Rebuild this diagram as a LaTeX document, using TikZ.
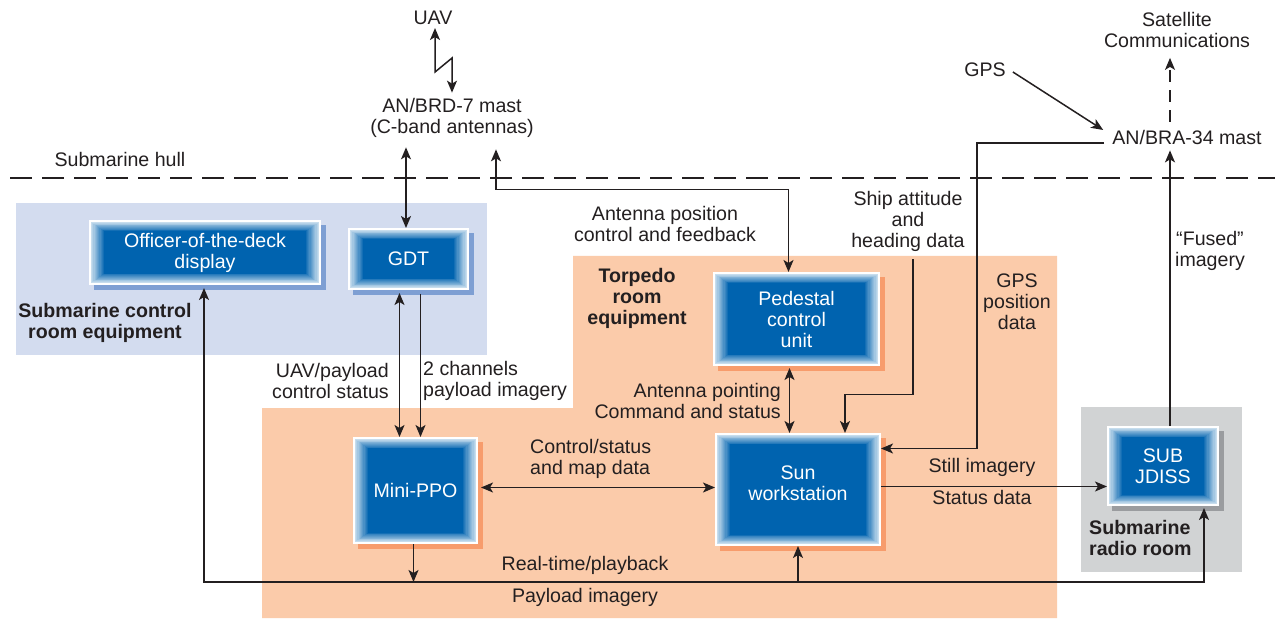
\documentclass[tikz,border=0pt]{standalone}
\usepackage{fontspec}
\setmainfont{Liberation Sans}
\usetikzlibrary{arrows.meta,calc}
\definecolor{boxblue}{HTML}{0063AF}
\definecolor{regblue}{HTML}{D3DCEF}
\definecolor{peach}{HTML}{FBCBAA}
\definecolor{reggray}{HTML}{D1D3D4}
\definecolor{shblue}{HTML}{7E9FD3}
\definecolor{shorange}{HTML}{F79C6C}
\definecolor{shgray}{HTML}{9A9C9F}
\definecolor{txt}{HTML}{231F20}
\pgfdeclarelayer{back}
\pgfdeclarelayer{shad}
\pgfsetlayers{back,shad,main}
\begin{document}
\begin{tikzpicture}[x=1pt,y=-1pt,
  font=\fontsize{19.6pt}{21pt}\selectfont, text=txt,
  lab/.style={align=center, inner sep=0pt},
  bold/.style={align=center, inner sep=0pt, font=\fontsize{19.6pt}{21pt}\selectfont\bfseries},
  arr/.style={-{Stealth[length=12pt,width=10pt,inset=3pt]}, line width=1.5pt, draw=txt},
  both/.style={{Stealth[length=12pt,width=10pt,inset=3pt]}-{Stealth[length=12pt,width=10pt,inset=3pt]}, line width=1.5pt, draw=txt},
  gbox/.style={inner sep=0pt, align=center, text=white, fill=boxblue, draw=white, line width=2pt,
    path picture={
      \foreach \i in {0,...,11}{
        \pgfmathtruncatemacro\pc{22+\i*78/11}
        \pgfmathsetmacro\dx{1+\i*1.2}
        \pgfmathsetmacro\dy{1+\i*0.85}
        \fill[boxblue!\pc!white] ([xshift=\dx pt, yshift=\dy pt]path picture bounding box.south west)
          rectangle ([xshift=-\dx pt, yshift=-\dy pt]path picture bounding box.north east);
      }
    }}
]
\useasboundingbox (0,0) rectangle (1275,620);

% regions
\begin{pgfonlayer}{back}
  \fill[regblue] (16,203) rectangle (487,355);
  \fill[peach] (573,256) -- (1057,256) -- (1057,618) -- (262,618) -- (262,408) -- (573,408) -- cycle;
  \fill[reggray] (1081,407) rectangle (1242,572);
\end{pgfonlayer}

% hull
\draw[dash pattern=on 22pt off 10pt, line width=1.6pt, draw=txt] (10,178) -- (1275,178);

% boxes
\node[gbox, minimum width=230pt, minimum height=63pt] (ood) at (205,252.5) {Officer-of-the-deck\\display};
\node[gbox, minimum width=119pt, minimum height=60pt] (gdt) at (408.5,259) {GDT};
\node[gbox, minimum width=123pt, minimum height=105pt] (ppo) at (415.5,490.5) {Mini-PPO};
\node[gbox, minimum width=165pt, minimum height=92pt] (ped) at (796.5,319) {Pedestal\\control\\unit};
\node[gbox, minimum width=164pt, minimum height=111pt, text depth=12pt] (sun) at (798,489.5) {Sun\\workstation};
\node[gbox, minimum width=110pt, minimum height=78pt] (jdiss) at (1163,466) {SUB\\JDISS};

\begin{pgfonlayer}{shad}
  \foreach \n/\c in {ood/shblue, gdt/shblue, ppo/shorange, ped/shorange, sun/shorange, jdiss/shgray}
    \fill[\c] ([shift={(5pt,-5pt)}]\n.south west) rectangle ([shift={(5pt,-5pt)}]\n.north east);
\end{pgfonlayer}

% labels
\node[lab] (uav) at (433,18) {UAV};
\node[lab] (mast7) at (452,117.5) {AN/BRD-7 mast\\(C-band antennas)};
\node[lab] (sat) at (1177,30) {Satellite\\Communications};
\node[lab] (gps) at (985,70) {GPS};
\node[lab] (mast34) at (1187,137) {AN/BRA-34 mast};
\node[lab] (hull) at (120,159) {Submarine hull};
\node[lab] (antpos) at (665,224) {Antenna position\\control and feedback};
\node[lab] (ship) at (908,221) {Ship attitude\\and\\heading data};
\node[lab] (fused) at (1210,251) {“Fused”\\imagery};
\node[bold] (torp) at (637,298) {Torpedo\\room\\equipment};
\node[lab] (gpspos) at (1017,302) {GPS\\position\\data};
\node[bold] (ctrlroom) at (105,323) {Submarine control\\room equipment};
\node[lab, align=right, anchor=east] (uavpay) at (389,381) {UAV/payload\\control status};
\node[lab, align=left, anchor=west] (twoch) at (423,381) {2 channels\\payload imagery};
\node[lab, align=right, anchor=east] (antpt) at (781,401) {Antenna pointing\\Command and status};
\node[lab, align=left, anchor=west] (ctrlmap) at (530,459) {Control/status\\and map data};
\node[lab] (still) at (982,467) {Still imagery};
\node[lab] (statd) at (982,497) {Status data};
\node[bold, align=left, anchor=west] (radio) at (1089,538) {Submarine\\radio room};
\node[lab] (rt) at (585,565) {Real-time/playback};
\node[lab] (pay) at (585,597) {Payload imagery};

% connectors
\draw[both] ($(uav.south)+(2,3)$) -- ++(0,44) -- ++(17,-14) -- ($(mast7.north)+(0,-5)$);
\draw[both] ($(mast7.south)+(-46,10)$) coordinate (t1) -- (t1 |- gdt.north);
\draw[both] ($(mast7.south)+(44,12)$) -- ++(0,40) -| ([xshift=-8pt]ped.north);
\draw[both] ($(gdt.south)+(-9,3)$) coordinate (t2) -- (t2 |- ppo.north);
\draw[arr] ($(gdt.south)+(12,4)$) coordinate (t3) -- (t3 |- ppo.north);
\draw[both] ($(ped.south)+(-7,2)$) coordinate (t4) -- (t4 |- sun.north);
\draw[arr] ($(ship.south)+(5,8)$) -- ++(0,135) -| ([xshift=47pt]sun.north);
\draw[arr] ($(mast34.west)+(-8,6)$) -- ++(-127,0) |- ([yshift=41pt]sun.east);
\draw[arr] ($(gps.east)+(7,2)$) -- ($(mast34.west)+(-9,-7)$);
\draw[arr, dash pattern=on 12pt off 8pt] ($(mast34.north)+(-17,-8)$) -- ($(sat.south)+(-7,10)$);
\draw[arr] ([xshift=7pt]jdiss.north) coordinate (t6) -- ($(t6 |- mast34.south)+(0,6)$);
\draw[both] ($(ppo.east)+(3,-3)$) coordinate (t7) -- (t7 -| sun.west);
\draw[arr] ($(sun.east)+(0,-3)$) coordinate (t8) -- (t8 -| jdiss.west);
\coordinate (bus) at (0,582);
\coordinate (t9) at ($(ood.south)+(-1,3)$);
\coordinate (t10) at ($(jdiss.south)+(41,2)$);
\draw[both] (t9) -- (t9 |- bus) -- (t10 |- bus) -- (t10);
\draw[arr] ([xshift=-2pt]ppo.south) coordinate (t11) -- (t11 |- bus);
\draw[arr] (sun.south |- bus) -- (sun.south);
\end{tikzpicture}
\end{document}
